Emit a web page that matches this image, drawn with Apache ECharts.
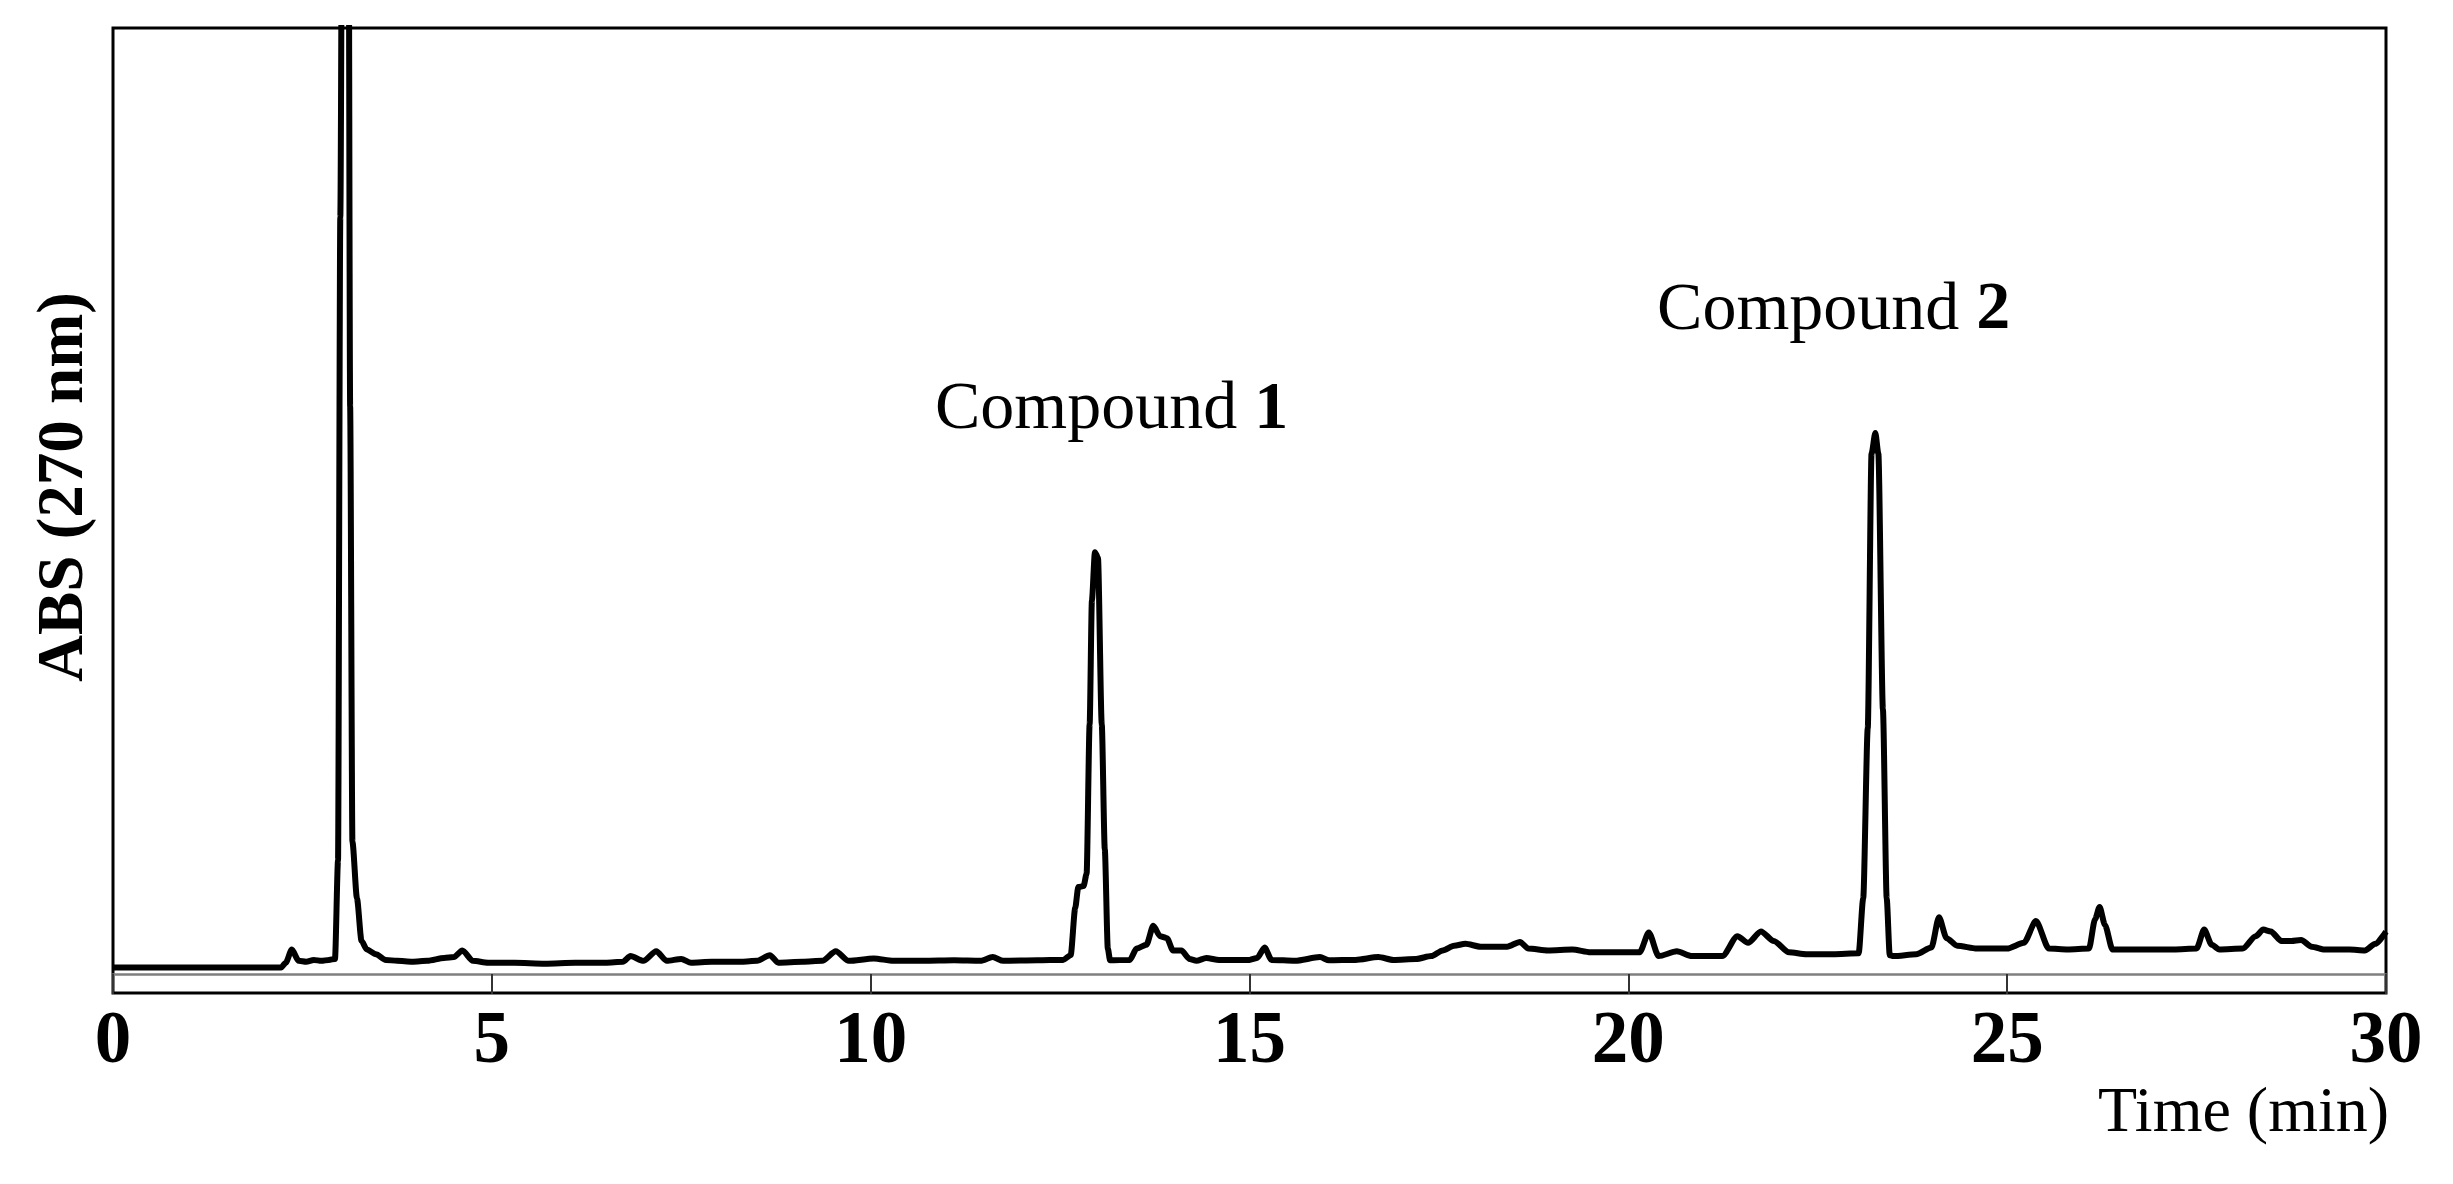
<!DOCTYPE html>
<html>
<head>
<meta charset="utf-8">
<title>HPLC chromatogram</title>
<script src="https://cdn.jsdelivr.net/npm/echarts@6/dist/echarts.min.js"></script>
<style>
  html, body { margin: 0; padding: 0; background: #fff; }
  #chart { width: 2453px; height: 1184px; }
</style>
</head>
<body>
<div id="chart"></div>
<script>
// retention time (min) and absorbance (arbitrary units, 100 = top of frame)
const times = [
  0, 2.22, 2.28, 2.36, 2.45, 2.55, 2.65, 2.75, 2.85, 2.93,
  2.97, 3.0, 3.04, 3.1, 3.13, 3.16, 3.22, 3.28, 3.35, 3.47,
  3.6, 3.75, 3.95, 4.15, 4.37, 4.5, 4.61, 4.75, 4.95, 5.3,
  5.7, 6.1, 6.5, 6.73, 6.83, 7.0, 7.17, 7.31, 7.5, 7.63,
  7.9, 8.3, 8.5, 8.67, 8.78, 9.1, 9.36, 9.54, 9.71, 10.04,
  10.3, 10.7, 11.1, 11.45, 11.61, 11.75, 12.2, 12.54, 12.64, 12.7,
  12.74, 12.81, 12.85, 12.89, 12.92, 12.96, 13.0, 13.05, 13.09, 13.13,
  13.16, 13.42, 13.51, 13.64, 13.73, 13.82, 13.91, 13.99, 14.1, 14.21,
  14.3, 14.43, 14.6, 15.0, 15.1, 15.2, 15.29, 15.6, 15.93, 16.05,
  16.4, 16.7, 16.9, 17.2, 17.4, 17.55, 17.7, 17.85, 18.05, 18.4,
  18.57, 18.68, 18.94, 19.26, 19.5, 19.8, 20.15, 20.27, 20.4, 20.64,
  20.84, 21.24, 21.44, 21.58, 21.75, 21.92, 22.12, 22.35, 22.7, 23.04,
  23.1, 23.16, 23.21, 23.26, 23.3, 23.36, 23.41, 23.45, 23.5, 23.8,
  24.0, 24.1, 24.2, 24.34, 24.6, 25.0, 25.22, 25.38, 25.55, 25.8,
  26.08, 26.16, 26.22, 26.29, 26.39, 26.8, 27.2, 27.5, 27.6, 27.7,
  27.8, 28.11, 28.28, 28.38, 28.48, 28.62, 28.75, 28.88, 29.02, 29.19,
  29.52, 29.72, 29.86, 30
]
const absorbance = [
  0.7, 0.7, 1.2, 2.6, 1.4, 1.3, 1.5, 1.4, 1.5, 1.6,
  12, 80, 150, 150, 60, 14, 8, 3.5, 2.6, 2.1,
  1.5, 1.4, 1.3, 1.4, 1.7, 1.8, 2.5, 1.4, 1.2, 1.2,
  1.1, 1.2, 1.2, 1.3, 1.9, 1.4, 2.4, 1.4, 1.6, 1.2,
  1.3, 1.3, 1.4, 2.0, 1.2, 1.3, 1.4, 2.4, 1.4, 1.65,
  1.4, 1.4, 1.45, 1.4, 1.8, 1.4, 1.45, 1.5, 2.0, 7,
  9.2, 9.3, 10.6, 26.4, 39.5, 44.6, 44, 26.4, 13.2, 2.7,
  1.45, 1.5, 2.7, 3.1, 5.1, 4.0, 3.8, 2.5, 2.5, 1.6,
  1.4, 1.7, 1.5, 1.5, 1.7, 2.8, 1.5, 1.4, 1.8, 1.45,
  1.5, 1.8, 1.5, 1.6, 1.9, 2.5, 3.0, 3.2, 2.9, 2.9,
  3.4, 2.7, 2.5, 2.6, 2.3, 2.3, 2.3, 4.4, 1.9, 2.4,
  1.9, 1.9, 4.0, 3.3, 4.5, 3.5, 2.3, 2.1, 2.1, 2.2,
  8, 26, 55, 57.2, 55, 28, 8, 2.0, 1.9, 2.1,
  2.8, 6.0, 3.8, 3.0, 2.7, 2.7, 3.3, 5.6, 2.7, 2.6,
  2.7, 5.8, 7.1, 5.2, 2.6, 2.6, 2.6, 2.7, 4.7, 3.1,
  2.6, 2.7, 4.0, 4.7, 4.5, 3.5, 3.5, 3.6, 2.9, 2.6,
  2.6, 2.5, 3.2, 4.5
]
const xTicks = [0, 5, 10, 15, 20, 25, 30]

// peak annotations: label text, bold number, anchor (time, absorbance)
const peakNames = ['Compound ', 'Compound ']
const peakNumbers = ['1', '2']
const peakAnchors = [[13.18, 59.6], [22.71, 70.1]]

const FONT = '"Liberation Serif", "Times New Roman", Times, serif'

const chart = echarts.init(document.getElementById('chart'))

const option = {
  backgroundColor: '#fff',
  animation: false,
  grid: {
    left: 113, right: 67, top: 28, bottom: 191,
    show: true,
    borderColor: '#000',
    borderWidth: 3,
    backgroundColor: 'transparent'
  },
  xAxis: {
    type: 'value',
    min: xTicks[0],
    max: xTicks[xTicks.length - 1],
    interval: 5,
    axisLine: { show: true, onZero: true, lineStyle: { color: '#7f7f7f', width: 2.5 } },
    axisTick: { show: true, length: 20, lineStyle: { color: '#333', width: 2 } },
    axisLabel: {
      margin: 14,
      fontFamily: FONT,
      fontSize: 73,
      fontWeight: 'bold',
      color: '#000'
    },
    splitLine: { show: false }
  },
  yAxis: {
    type: 'value',
    min: -2,
    max: 100,
    axisLine: { show: false },
    axisTick: { show: false },
    axisLabel: { show: false },
    splitLine: { show: false }
  },
  series: [{
    type: 'line',
    data: times.map((t, i) => [t, absorbance[i]]),
    showSymbol: false,
    symbol: 'none',
    clip: true,
    smooth: 0.25,
    smoothMonotone: 'x',
    lineStyle: { color: '#000', width: 6, join: 'round' },
    markPoint: {
      symbol: 'circle',
      symbolSize: 0,
      silent: true,
      data: peakAnchors.map((c, i) => ({
        coord: c,
        label: {
          show: true,
          position: 'inside',
          formatter: `{r|${peakNames[i]}}{b|${peakNumbers[i]}}`,
          rich: {
            r: { fontFamily: FONT, fontSize: 68, color: '#000' },
            b: { fontFamily: FONT, fontSize: 68, fontWeight: 'bold', color: '#000' }
          }
        }
      }))
    }
  }],
  graphic: [
    {
      type: 'text',
      x: 65, y: 487,
      rotation: Math.PI / 2,
      style: {
        text: 'ABS (270 nm)',
        font: `bold 65px ${FONT}`,
        fill: '#000',
        align: 'center', verticalAlign: 'middle',
        textAlign: 'center', textVerticalAlign: 'middle'
      }
    },
    {
      type: 'text',
      x: 2389, y: 1114,
      style: {
        text: 'Time (min)',
        font: `64px ${FONT}`,
        fill: '#000',
        align: 'right', verticalAlign: 'middle',
        textAlign: 'right', textVerticalAlign: 'middle'
      }
    }
  ]
}

chart.setOption(option)
window.addEventListener('resize', () => chart.resize())
</script>
</body>
</html>
